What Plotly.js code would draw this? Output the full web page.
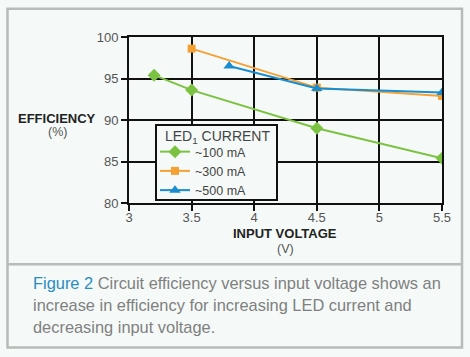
<!DOCTYPE html>
<html>
<head>
<meta charset="utf-8">
<script src="https://cdn.plot.ly/plotly-3.0.1.min.js"></script>
<style>html,body{margin:0;padding:0;background:#f5faf8;}#chart{width:470px;height:357px;}</style>
</head>
<body>
<div id="chart"></div>
<script>
// ---- data ----
const seriesNames = ["~100 mA", "~300 mA", "~500 mA"];
const voltage100 = [3.2, 3.5, 4.5, 5.5];
const eff100 = [95.4, 93.6, 89.0, 85.4];
const voltage300 = [3.5, 4.5, 5.5];
const eff300 = [98.6, 93.9, 92.9];
const voltage500 = [3.8, 4.5, 5.5];
const eff500 = [96.5, 93.8, 93.3];
const xTicks = [3, 3.5, 4, 4.5, 5, 5.5];
const xTickLabels = ["3", "3.5", "4", "4.5", "5", "5.5"];
const yTicks = [80, 85, 90, 95, 100];
const yTickLabels = ["80", "85", "90", "95", "100"];
const legendTitle = "LED<sub>1</sub> CURRENT";

// ---- layout helpers ----
const W = 470, H = 357, L = 129, R = 28, T = 37, B = 154;
const pw = W - L - R, ph = H - T - B;
const fx = px => (px - L) / pw;
const fy = py => (H - B - py) / ph;

const bg = "#f5faf8";
const font = "Liberation Sans, Arial, sans-serif";

const traces = [
  {x: voltage100, y: eff100, name: seriesNames[0], mode: "lines+markers",
   line: {color: "#7cc242", width: 2}, marker: {symbol: "diamond", size: 10, color: "#7cc242"}},
  {x: voltage300, y: eff300, name: seriesNames[1], mode: "lines+markers",
   line: {color: "#f4a033", width: 2}, marker: {symbol: "square", size: 8, color: "#f4a033"}},
  {x: voltage500, y: eff500, name: seriesNames[2], mode: "lines+markers",
   line: {color: "#1a8dd0", width: 2}, marker: {symbol: "triangle-up", size: 10, color: "#1a8dd0"}}
];

function ann(text, px, py, size, color, weight, xanchor) {
  return {text: text, xref: "paper", yref: "paper", x: fx(px), y: fy(py),
    xanchor: xanchor || "center", yanchor: "middle", showarrow: false,
    font: {family: font, size: size, color: color, weight: weight || "normal"}};
}

const layout = {
  width: W, height: H,
  margin: {l: L, r: R, t: T, b: B, pad: 0},
  paper_bgcolor: bg, plot_bgcolor: bg,
  font: {family: font, color: "#555"},
  showlegend: true,
  legend: {
    x: fx(155), y: fy(137), xanchor: "left", yanchor: "top",
    bgcolor: "rgba(0,0,0,0)", borderwidth: 0,
    font: {family: font, size: 12.5, color: "#444"},
    itemwidth: 30, tracegroupgap: 0
  },
  xaxis: {
    range: [3, 5.5], tickvals: xTicks, ticktext: xTickLabels,
    showgrid: true, gridcolor: "#111", gridwidth: 2,
    showline: true, mirror: true, linecolor: "#111", linewidth: 2,
    ticks: "outside", ticklen: 6, tickwidth: 2, tickcolor: "#111", ticklabelstandoff: -5,
    tickfont: {family: font, size: 13, color: "#555"}, zeroline: false, fixedrange: true
  },
  yaxis: {
    range: [80, 100], tickvals: yTicks, ticktext: yTickLabels,
    showgrid: true, gridcolor: "#111", gridwidth: 2,
    showline: true, mirror: true, linecolor: "#111", linewidth: 2,
    ticks: "outside", ticklen: 6, tickwidth: 2, tickcolor: "#111",
    tickfont: {family: font, size: 13, color: "#555"}, zeroline: false, fixedrange: true
  },
  shapes: [
    {type: "rect", xref: "paper", yref: "paper", x0: fx(7.5), x1: fx(462), y0: fy(347.5), y1: fy(8.7),
     line: {color: "#b6bcb8", width: 2.5}, fillcolor: "rgba(0,0,0,0)", layer: "below"},
    {type: "line", xref: "paper", yref: "paper", x0: fx(7.5), x1: fx(462), y0: fy(264.3), y1: fy(264.3),
     line: {color: "#b6bcb8", width: 2.5}},
    {type: "rect", xref: "paper", yref: "paper", x0: fx(156), x1: fx(277), y0: fy(200), y1: fy(125),
     line: {color: "#111", width: 2}, fillcolor: bg, layer: "above"}
  ],
  annotations: [
    ann(legendTitle, 163, 137, 14, "#444", "normal", "left"),
    ann("EFFICIENCY", 57, 118, 13, "#222", "bold"),
    ann("(%)", 57, 132, 12.5, "#555"),
    ann("INPUT VOLTAGE", 285, 233, 13, "#222", "bold"),
    ann("(V)", 285, 249, 12.5, "#555"),
    ann('<span style="color:#2a8cc0">Figure 2</span> Circuit efficiency versus input voltage shows an', 31, 283, 16.4, "#808080", "normal", "left"),
    ann("increase in efficiency for increasing LED current and", 31, 305, 16.4, "#808080", "normal", "left"),
    ann("decreasing input voltage.", 31, 327, 16.4, "#808080", "normal", "left")
  ]
};

Plotly.newPlot("chart", traces, layout, {displayModeBar: false, staticPlot: true});
</script>
</body>
</html>
